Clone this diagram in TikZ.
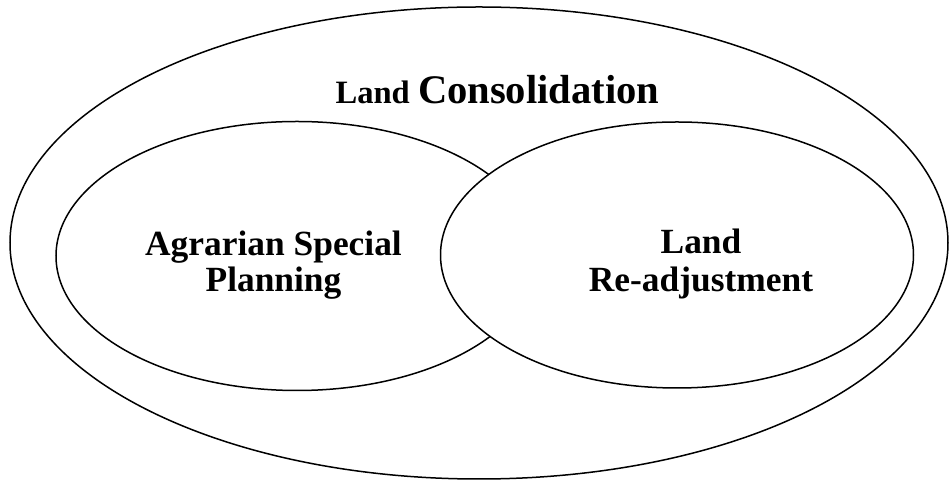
\documentclass[tikz,border=0pt]{standalone}
\usepackage{fontspec}
\setmainfont{Liberation Serif}
\usetikzlibrary{shapes.geometric}

\begin{document}
\begin{tikzpicture}[
            x=0.5pt, y=-0.5pt,
            area/.style={draw, ellipse, line width=0.75pt, inner sep=0pt, fill=white},
            areatext/.style={font=\bfseries\fontsize{17.7}{18}\selectfont, align=center, anchor=base}
        ]
        \useasboundingbox (0,0) rectangle (950,480);

        % outer set
        \node[area, minimum width=469pt, minimum height=236pt] (consol) at (479,243) {};

        % the two inner sets, the right one on top
        \node[area, minimum width=241pt, minimum height=134.5pt] (agrarian) at (297,256) {};
        \node[area, minimum width=236.5pt, minimum height=133pt] (readj) at (677,255) {};

        \node[anchor=base, font=\bfseries] (consolText) at (497.5,104)
            {{\fontsize{16.3}{18}\selectfont Land }{\fontsize{20.3}{22}\selectfont Consolidation}};
        % base = last line
        \node[areatext] (agrarianText) at (273.5,292) {Agrarian Special\\Planning};
        \node[areatext] (readjText) at (701,292) {Land\\[1pt]Re-adjustment};

    \end{tikzpicture}
\end{document}
